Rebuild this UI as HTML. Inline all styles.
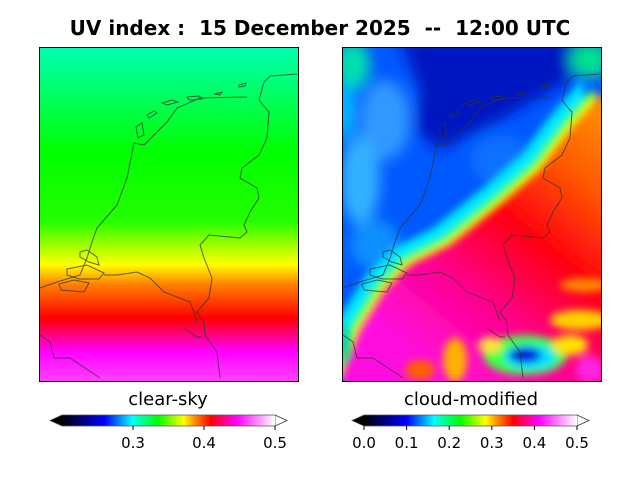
<!DOCTYPE html>
<html><head><meta charset="utf-8"><style>
body{margin:0;background:#fff;width:640px;height:480px;overflow:hidden;font-family:"DejaVu Sans","Liberation Sans",sans-serif}
svg{display:block}
</style></head><body>
<svg id="fig" width="640" height="480" viewBox="0 0 640 480" font-family="DejaVu Sans, Liberation Sans, sans-serif">
<defs>
<linearGradient id="cmap" x1="0" x2="1" y1="0" y2="0"></linearGradient>
<linearGradient id="clearsky" x1="0" x2="0" y1="0" y2="1"></linearGradient>
<linearGradient id="warm" gradientUnits="userSpaceOnUse" x1="585" y1="100" x2="390" y2="340">
<stop offset="0" stop-color="#ff8c00"/><stop offset="0.2" stop-color="#ff5a00"/><stop offset="0.45" stop-color="#ff0010"/><stop offset="0.72" stop-color="#ff0090"/><stop offset="1" stop-color="#ff10e0"/>
</linearGradient>
<filter id="blur" x="-10%" y="-10%" width="120%" height="120%"><feGaussianBlur stdDeviation="4"/></filter>
<filter id="blur2" x="-20%" y="-20%" width="140%" height="140%"><feGaussianBlur stdDeviation="7"/></filter>
<clipPath id="clipR"><rect x="342" y="47" width="259" height="334"/></clipPath>
<g id="coast" fill="none" stroke="#333" stroke-width="1" stroke-opacity="0.75">
<path d="M258,27 L231,29 L225,35 L220,53 L228,63 L230,65 L228,91 L220,108 L203,121 L201,131 L218,141 L220,151 L211,165 L205,178 L208,185 L201,191 L170,188 L161,198 L165,211 L173,231 L170,251 L158,265 L165,275 L166,288 L178,305 L181,331"/>
<path d="M208,50 L161,51 L138,61 L128,75 L105,98 L95,96 L88,131 L78,158 L58,181 L53,195 L48,211 L41,228 L18,235 L1,241"/>
<path d="M65,228 L78,228 L98,225 L111,231 L125,245 L151,255 L155,265 L158,275"/>
<path d="M145,281 L155,288 L158,290 L163,290"/>
<path d="M1,288 L11,295 L15,311 L31,311 L61,331"/>
<path d="M41,205 L48,203 L58,210 L60,218 L50,215 L41,210 Z"/>
<path d="M28,222 L48,218 L65,226 L60,232 L40,232 L28,228 Z"/>
<path d="M20,237 L35,233 L50,236 L45,245 L22,243 Z"/>
<path d="M97,80 L103,76 L105,88 L99,91 Z"/>
<path d="M108,68 L115,64 L118,66 L110,71 Z"/>
<path d="M123,56 L133,53 L139,55 L128,58 Z"/>
<path d="M148,50 L160,49 L163,52 L150,53 Z"/>
<path d="M175,47 L183,45 L181,48 Z"/>
<path d="M200,38 L207,36 L206,39 L200,40 Z"/>
</g>
</defs>
<text x="320" y="35" text-anchor="middle" font-size="20" font-weight="bold" style="white-space:pre">UV index :  15 December 2025  --  12:00 UTC</text>

<g>
<rect x="39.5" y="47.5" width="259" height="334" fill="url(#clearsky)"/>
<use href="#coast" transform="translate(39,47)"/>
<rect x="39.5" y="47.5" width="259" height="334" fill="none" stroke="#000" stroke-width="1"/>
</g>
<text x="168" y="405" text-anchor="middle" font-size="18">clear-sky</text>

<g>
<g clip-path="url(#clipR)">
<rect x="342" y="47" width="259" height="334" fill="#0058ff"/>
<g filter="url(#blur2)">
<polygon points="400,40 590,40 570,80 500,120 440,150 415,130 420,90" fill="#0018c0"/>
<ellipse cx="352" cy="65" rx="18" ry="25" fill="#00e0b0"/>
<ellipse cx="385" cy="120" rx="25" ry="40" fill="#3098ff"/>
<ellipse cx="360" cy="180" rx="20" ry="45" fill="#30b0ff"/>
<ellipse cx="375" cy="245" rx="25" ry="25" fill="#1090ff"/>
<ellipse cx="345" cy="110" rx="8" ry="30" fill="#00d0ff"/>
<ellipse cx="590" cy="60" rx="20" ry="18" fill="#00e090"/>
<ellipse cx="500" cy="160" rx="30" ry="25" fill="#1070ff"/>
</g>
<g filter="url(#blur)">
<polygon transform="translate(-18,-16)" fill="#00e8ff" points="343,365 360,330 385,290 410,265 450,245 500,205 540,170 570,130 601,95 601,381 343,381"/>
<polygon transform="translate(-8,-8)" fill="#30ff40" points="343,365 360,330 385,290 410,265 450,245 500,205 540,170 570,130 601,95 601,381 343,381"/>
<polygon transform="translate(-3,-3)" fill="#f0ff00" points="343,365 360,330 385,290 410,265 450,245 500,205 540,170 570,130 601,95 601,381 343,381"/>
</g>
<polygon filter="url(#blur)" fill="url(#warm)" points="343,370 360,330 385,290 410,265 450,245 500,205 540,170 570,130 601,95 620,95 620,400 343,400"/>
<g filter="url(#blur)">
<ellipse cx="585" cy="285" rx="25" ry="7" fill="#ff8800"/>
<ellipse cx="580" cy="320" rx="30" ry="10" fill="#ffd000"/>
<ellipse cx="455" cy="360" rx="12" ry="22" fill="#ffb000"/>
<ellipse cx="420" cy="370" rx="15" ry="10" fill="#ff6000"/>
<ellipse cx="525" cy="355" rx="42" ry="20" fill="#40ff40"/>
<ellipse cx="530" cy="357" rx="26" ry="12" fill="#00e0ff"/>
<ellipse cx="525" cy="355" rx="16" ry="8" fill="#0010e0"/>
<ellipse cx="570" cy="345" rx="18" ry="10" fill="#ffe000"/>
<ellipse cx="590" cy="370" rx="14" ry="14" fill="#ff20e0"/>
<ellipse cx="490" cy="345" rx="12" ry="8" fill="#ffe040"/>
<ellipse cx="345" cy="345" rx="5" ry="20" fill="#00d0a0"/>
</g>
</g>
<use href="#coast" transform="translate(342,47)"/>
<rect x="342.5" y="47.5" width="259" height="334" fill="none" stroke="#000" stroke-width="1"/>
</g>
<text x="471" y="405" text-anchor="middle" font-size="18">cloud-modified</text>

<g id="cbL"></g>
<g id="cbR"></g>
</svg>
<script>
const cmapPos=[0,0.2,0.33,0.45,0.57,0.63,0.7,0.82,1];
const cmapColors=["#000000","#0000ff","#00ffff","#00ff00","#ffff00","#ff8000","#ff0000","#ff00ff","#ffffff"];
const clearSkyRows=[0,0.31,0.52,0.65,0.71,0.81,0.91,1];
const clearSkyVals=[0.31,0.335,0.34,0.371,0.389,0.41,0.446,0.46];
const leftTicks=[0.3,0.4,0.5];
const rightTicks=[0.0,0.1,0.2,0.3,0.4,0.5];
const NS="http://www.w3.org/2000/svg";
const cm=document.getElementById('cmap');
cmapPos.forEach((p,i)=>{const s=document.createElementNS(NS,'stop');s.setAttribute('offset',p);s.setAttribute('stop-color',cmapColors[i]);cm.appendChild(s);});
function hex(h){return [1,3,5].map(i=>parseInt(h.substr(i,2),16));}
function colorAt(f){f=Math.max(0,Math.min(1,f));for(let i=1;i<cmapPos.length;i++){if(f<=cmapPos[i]){const t=(f-cmapPos[i-1])/(cmapPos[i]-cmapPos[i-1]);const a=hex(cmapColors[i-1]),b=hex(cmapColors[i]);return 'rgb('+a.map((v,k)=>Math.round(v+(b[k]-v)*t)).join(',')+')';}}return cmapColors[cmapColors.length-1];}
const cs=document.getElementById('clearsky');
clearSkyRows.forEach((r,i)=>{const s=document.createElementNS(NS,'stop');s.setAttribute('offset',r);s.setAttribute('stop-color',colorAt((clearSkyVals[i]-0.2)/0.3));cs.appendChild(s);});
function colorbar(id,vmin,vmax,x0,x1,ticks,name){
  const g=document.getElementById(id);const y0=415,y1=426;
  const sx=v=>x0+(v-vmin)/(vmax-vmin)*(x1-x0);
  const lt=document.createElementNS(NS,'polygon');
  
  
  lt.setAttribute('points',`${x0},${y0} ${x0-12},${(y0+y1)/2} ${x0},${y1}`);lt.setAttribute('fill','#000');g.appendChild(lt);
  const rt=document.createElementNS(NS,'polygon');
  
  
  rt.setAttribute('points',`${x1},${y0} ${x1+12},${(y0+y1)/2} ${x1},${y1}`);rt.setAttribute('fill','#fff');rt.setAttribute('stroke','#555');rt.setAttribute('stroke-width','0.8');g.appendChild(rt);
  const r=document.createElementNS(NS,'rect');
  
  
  r.setAttribute('x',x0);r.setAttribute('y',y0);r.setAttribute('width',x1-x0);r.setAttribute('height',y1-y0);r.setAttribute('fill','url(#cmap)');g.appendChild(r);
  const o=document.createElementNS(NS,'polygon');
  
  
  o.setAttribute('points',`${x0},${y0} ${x1},${y0} ${x1+12},${(y0+y1)/2} ${x1},${y1} ${x0},${y1} ${x0-12},${(y0+y1)/2}`);o.setAttribute('fill','none');o.setAttribute('stroke','#555');o.setAttribute('stroke-width','0.8');g.appendChild(o);
  ticks.forEach(t=>{const x=sx(t);
    const l=document.createElementNS(NS,'line');
    
    
    l.setAttribute('x1',x);l.setAttribute('x2',x);l.setAttribute('y1',y1);l.setAttribute('y2',y1+4);l.setAttribute('stroke','#000');g.appendChild(l);
    const tx=document.createElementNS(NS,'text');
    
    
    tx.setAttribute('x',x);tx.setAttribute('y',448);tx.setAttribute('text-anchor','middle');tx.setAttribute('font-size','15');tx.textContent=t.toFixed(1);g.appendChild(tx);});
}
colorbar('cbL',0.2,0.5,62,275,leftTicks,'clear-sky-colorbar');
colorbar('cbR',0.0,0.5,364,577,rightTicks,'cloud-modified-colorbar');
</script>
</body></html>
